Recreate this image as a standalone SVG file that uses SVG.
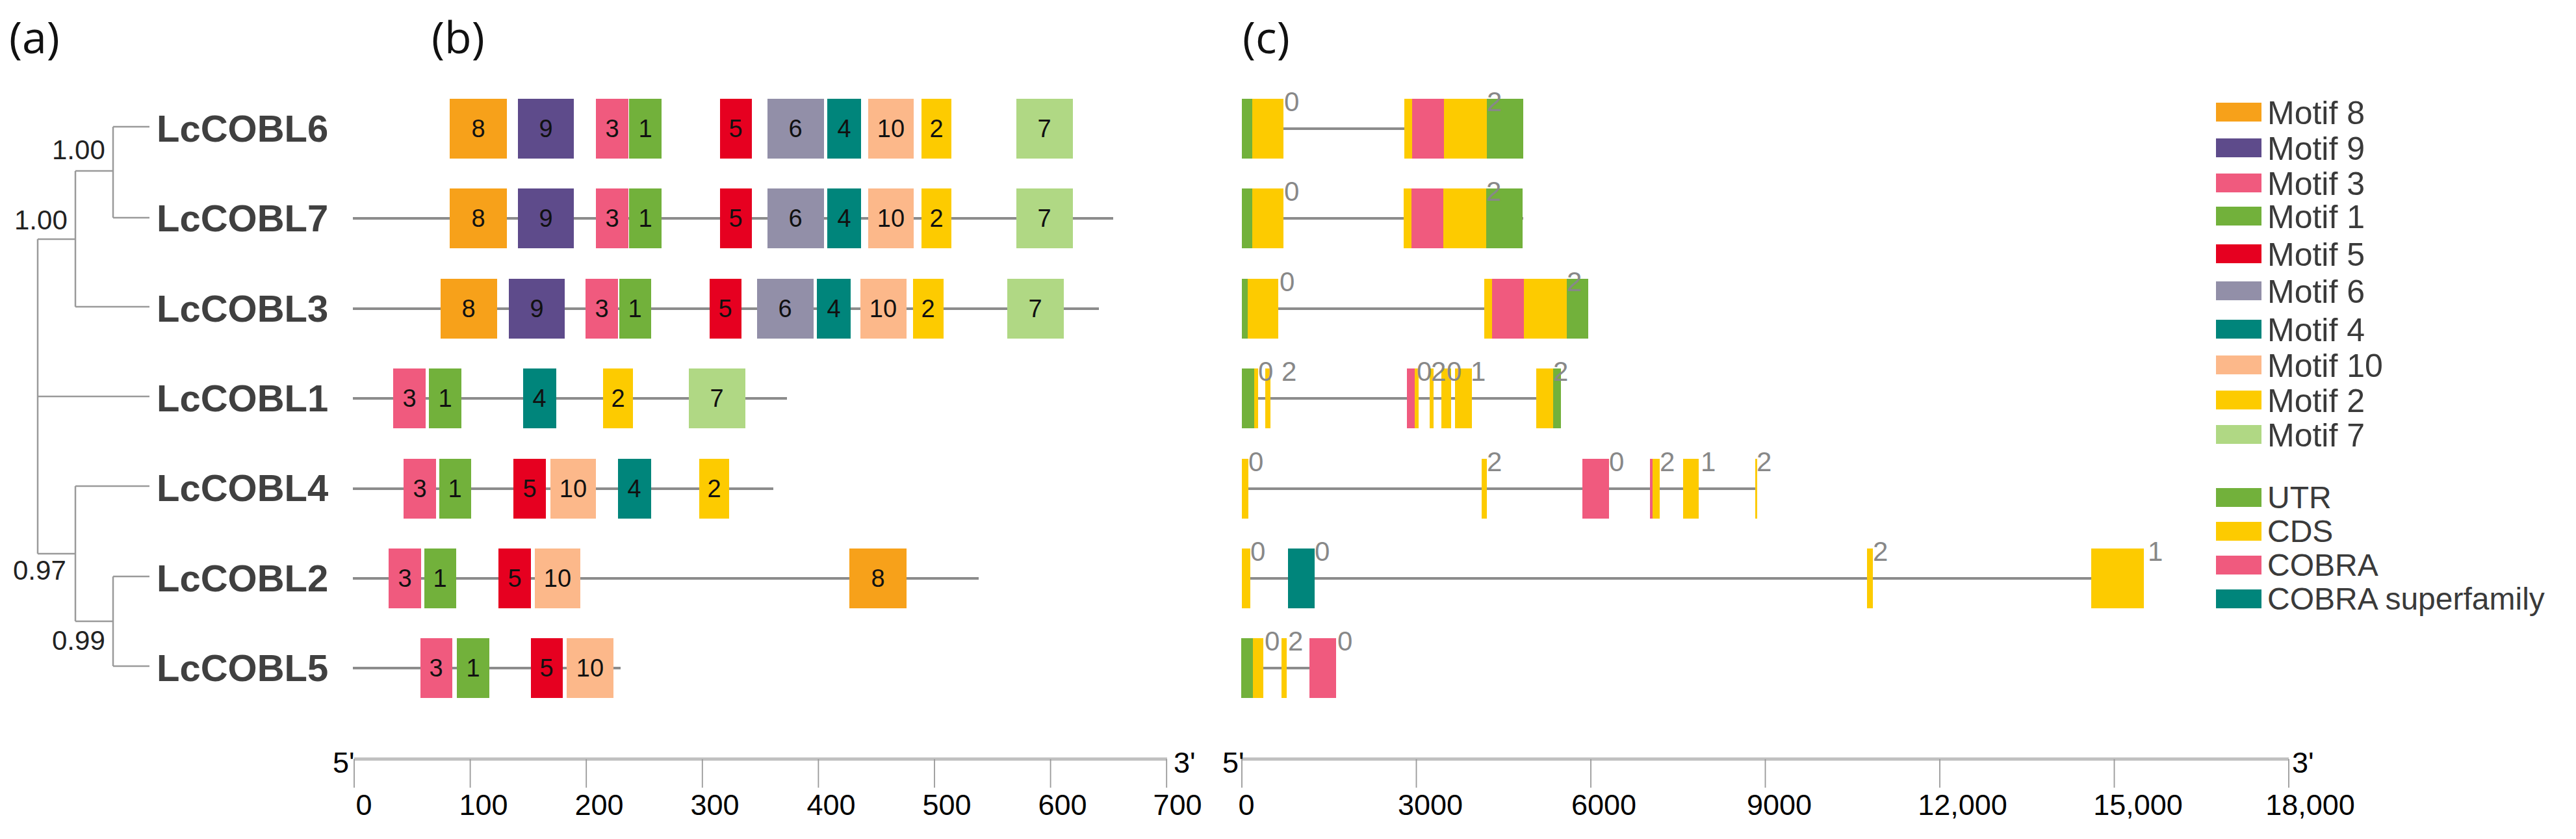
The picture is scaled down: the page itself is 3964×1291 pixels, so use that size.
<svg xmlns="http://www.w3.org/2000/svg" width="3964" height="1291" viewBox="0 0 3964 1291">
<style>
.bg{fill:#ffffff}
.tree{stroke:#9a9a9a;stroke-width:2.5;fill:none}
.gl{stroke:#8c8c8c;stroke-width:4}
.ax{stroke:#c0c0c0;stroke-width:5}
.tk{stroke:#9a9a9a;stroke-width:1.8}
.m8{fill:#F7A11A}.m9{fill:#5E4B8B}.m3{fill:#F05A7E}.m1{fill:#72B13B}.m5{fill:#E60020}
.m6{fill:#928FA8}.m4{fill:#00857B}.m10{fill:#FCB88A}.m2{fill:#FDCB00}.m7{fill:#B0D884}
.num{font-family:"Liberation Sans",Arial,sans-serif;font-size:38px;fill:#111;text-anchor:middle}
.ph{font-family:"Liberation Sans",Arial,sans-serif;font-size:42px;fill:#888}
.gene{font-family:"Liberation Sans",Arial,sans-serif;font-size:58px;font-weight:bold;fill:#404040}
.bs{font-family:"Liberation Sans",Arial,sans-serif;font-size:42px;fill:#222}
.pl{font-family:"Open Sans","Liberation Sans",sans-serif;font-size:68px;fill:#111}
.tl{font-family:"Liberation Sans",Arial,sans-serif;font-size:45px;fill:#000;text-anchor:middle}
.end{font-family:"Liberation Sans",Arial,sans-serif;font-size:45px;fill:#000}
.lg{font-family:"Liberation Sans",Arial,sans-serif;font-size:50px;fill:#3a3a3a}
.lg2{font-family:"Liberation Sans",Arial,sans-serif;font-size:48px;fill:#3a3a3a}
</style>
<rect class="bg" x="0" y="0" width="3964" height="1291"/>

<g id="panel-labels">
<text class="pl" x="14" y="82">(a)</text>
<text class="pl" x="664" y="82">(b)</text>
<text class="pl" x="1912" y="82">(c)</text>
</g>

<g id="tree">
<path class="tree" d="M174,195 H230 M174,335 H230 M174,195 V335 M116,263 H174 M116,263 V472 M116,472 H230 M58,368 H116 M58,368 V852 M58,610 H230 M58,852 H116 M116,748 V956 M116,748 H230 M116,956 H174 M174,887 V1025 M174,887 H230 M174,1025 H230"/>
<text class="bs" x="80" y="245">1.00</text>
<text class="bs" x="22" y="353">1.00</text>
<text class="bs" x="20" y="892">0.97</text>
<text class="bs" x="80" y="1000">0.99</text>
</g>

<g id="gene-labels">
<text class="gene" x="241" y="218">LcCOBL6</text>
<text class="gene" x="241" y="356">LcCOBL7</text>
<text class="gene" x="241" y="495">LcCOBL3</text>
<text class="gene" x="241" y="633">LcCOBL1</text>
<text class="gene" x="241" y="771">LcCOBL4</text>
<text class="gene" x="241" y="910">LcCOBL2</text>
<text class="gene" x="241" y="1048">LcCOBL5</text>
</g>

<g id="motifs">
<g id="motif-LcCOBL6">
<rect class="m8" x="692" y="152" width="88" height="92"/><text class="num" x="736" y="211">8</text>
<rect class="m9" x="797" y="152" width="86" height="92"/><text class="num" x="840" y="211">9</text>
<rect class="m3" x="917" y="152" width="50" height="92"/><text class="num" x="942" y="211">3</text>
<rect class="m1" x="968" y="152" width="50" height="92"/><text class="num" x="993" y="211">1</text>
<rect class="m5" x="1108" y="152" width="49" height="92"/><text class="num" x="1132" y="211">5</text>
<rect class="m6" x="1181" y="152" width="87" height="92"/><text class="num" x="1224" y="211">6</text>
<rect class="m4" x="1273" y="152" width="52" height="92"/><text class="num" x="1299" y="211">4</text>
<rect class="m10" x="1336" y="152" width="70" height="92"/><text class="num" x="1371" y="211">10</text>
<rect class="m2" x="1418" y="152" width="46" height="92"/><text class="num" x="1441" y="211">2</text>
<rect class="m7" x="1564" y="152" width="87" height="92"/><text class="num" x="1607" y="211">7</text>
</g>
<g id="motif-LcCOBL7">
<line class="gl" x1="543" y1="336" x2="1713" y2="336"/>
<rect class="m8" x="692" y="290" width="88" height="92"/><text class="num" x="736" y="349">8</text>
<rect class="m9" x="797" y="290" width="86" height="92"/><text class="num" x="840" y="349">9</text>
<rect class="m3" x="917" y="290" width="50" height="92"/><text class="num" x="942" y="349">3</text>
<rect class="m1" x="968" y="290" width="50" height="92"/><text class="num" x="993" y="349">1</text>
<rect class="m5" x="1108" y="290" width="49" height="92"/><text class="num" x="1132" y="349">5</text>
<rect class="m6" x="1181" y="290" width="87" height="92"/><text class="num" x="1224" y="349">6</text>
<rect class="m4" x="1273" y="290" width="52" height="92"/><text class="num" x="1299" y="349">4</text>
<rect class="m10" x="1336" y="290" width="70" height="92"/><text class="num" x="1371" y="349">10</text>
<rect class="m2" x="1418" y="290" width="46" height="92"/><text class="num" x="1441" y="349">2</text>
<rect class="m7" x="1564" y="290" width="87" height="92"/><text class="num" x="1607" y="349">7</text>
</g>
<g id="motif-LcCOBL3">
<line class="gl" x1="543" y1="475" x2="1691" y2="475"/>
<rect class="m8" x="678" y="429" width="87" height="92"/><text class="num" x="721" y="488">8</text>
<rect class="m9" x="783" y="429" width="86" height="92"/><text class="num" x="826" y="488">9</text>
<rect class="m3" x="901" y="429" width="50" height="92"/><text class="num" x="926" y="488">3</text>
<rect class="m1" x="953" y="429" width="49" height="92"/><text class="num" x="977" y="488">1</text>
<rect class="m5" x="1092" y="429" width="49" height="92"/><text class="num" x="1116" y="488">5</text>
<rect class="m6" x="1165" y="429" width="87" height="92"/><text class="num" x="1208" y="488">6</text>
<rect class="m4" x="1257" y="429" width="52" height="92"/><text class="num" x="1283" y="488">4</text>
<rect class="m10" x="1324" y="429" width="71" height="92"/><text class="num" x="1359" y="488">10</text>
<rect class="m2" x="1405" y="429" width="47" height="92"/><text class="num" x="1428" y="488">2</text>
<rect class="m7" x="1550" y="429" width="87" height="92"/><text class="num" x="1593" y="488">7</text>
</g>
<g id="motif-LcCOBL1">
<line class="gl" x1="543" y1="613" x2="1211" y2="613"/>
<rect class="m3" x="605" y="567" width="50" height="92"/><text class="num" x="630" y="626">3</text>
<rect class="m1" x="660" y="567" width="50" height="92"/><text class="num" x="685" y="626">1</text>
<rect class="m4" x="805" y="567" width="51" height="92"/><text class="num" x="830" y="626">4</text>
<rect class="m2" x="928" y="567" width="46" height="92"/><text class="num" x="951" y="626">2</text>
<rect class="m7" x="1060" y="567" width="87" height="92"/><text class="num" x="1103" y="626">7</text>
</g>
<g id="motif-LcCOBL4">
<line class="gl" x1="543" y1="752" x2="1190" y2="752"/>
<rect class="m3" x="621" y="706" width="50" height="92"/><text class="num" x="646" y="765">3</text>
<rect class="m1" x="676" y="706" width="49" height="92"/><text class="num" x="700" y="765">1</text>
<rect class="m5" x="790" y="706" width="50" height="92"/><text class="num" x="815" y="765">5</text>
<rect class="m10" x="847" y="706" width="70" height="92"/><text class="num" x="882" y="765">10</text>
<rect class="m4" x="951" y="706" width="51" height="92"/><text class="num" x="976" y="765">4</text>
<rect class="m2" x="1076" y="706" width="46" height="92"/><text class="num" x="1099" y="765">2</text>
</g>
<g id="motif-LcCOBL2">
<line class="gl" x1="543" y1="890" x2="1506" y2="890"/>
<rect class="m3" x="598" y="844" width="50" height="92"/><text class="num" x="623" y="903">3</text>
<rect class="m1" x="653" y="844" width="49" height="92"/><text class="num" x="677" y="903">1</text>
<rect class="m5" x="767" y="844" width="50" height="92"/><text class="num" x="792" y="903">5</text>
<rect class="m10" x="823" y="844" width="70" height="92"/><text class="num" x="858" y="903">10</text>
<rect class="m8" x="1307" y="844" width="88" height="92"/><text class="num" x="1351" y="903">8</text>
</g>
<g id="motif-LcCOBL5">
<line class="gl" x1="543" y1="1028" x2="955" y2="1028"/>
<rect class="m3" x="647" y="982" width="49" height="92"/><text class="num" x="671" y="1041">3</text>
<rect class="m1" x="703" y="982" width="50" height="92"/><text class="num" x="728" y="1041">1</text>
<rect class="m5" x="817" y="982" width="49" height="92"/><text class="num" x="841" y="1041">5</text>
<rect class="m10" x="872" y="982" width="72" height="92"/><text class="num" x="908" y="1041">10</text>
</g>
</g>

<g id="structures">
<g id="gs-LcCOBL6">
<line class="gl" x1="1911" y1="198" x2="2344" y2="198"/>
<rect class="m1" x="1911" y="152" width="16" height="92"/>
<rect class="m2" x="1927" y="152" width="48" height="92"/>
<rect class="m2" x="2161" y="152" width="12" height="92"/>
<rect class="m3" x="2173" y="152" width="49" height="92"/>
<rect class="m2" x="2222" y="152" width="66" height="92"/>
<rect class="m1" x="2288" y="152" width="56" height="92"/>
<text class="ph" x="1976" y="171">0</text><text class="ph" x="2288" y="171">2</text>
</g>
<g id="gs-LcCOBL7">
<line class="gl" x1="1911" y1="336" x2="2344" y2="336"/>
<rect class="m1" x="1911" y="290" width="16" height="92"/>
<rect class="m2" x="1927" y="290" width="48" height="92"/>
<rect class="m2" x="2160" y="290" width="12" height="92"/>
<rect class="m3" x="2172" y="290" width="49" height="92"/>
<rect class="m2" x="2221" y="290" width="66" height="92"/>
<rect class="m1" x="2287" y="290" width="56" height="92"/>
<text class="ph" x="1976" y="309">0</text><text class="ph" x="2287" y="309">2</text>
</g>
<g id="gs-LcCOBL3">
<line class="gl" x1="1911" y1="475" x2="2444" y2="475"/>
<rect class="m1" x="1911" y="429" width="9" height="92"/>
<rect class="m2" x="1920" y="429" width="47" height="92"/>
<rect class="m2" x="2284" y="429" width="12" height="92"/>
<rect class="m3" x="2296" y="429" width="49" height="92"/>
<rect class="m2" x="2345" y="429" width="66" height="92"/>
<rect class="m1" x="2411" y="429" width="33" height="92"/>
<text class="ph" x="1969" y="448">0</text><text class="ph" x="2411" y="448">2</text>
</g>
<g id="gs-LcCOBL1">
<line class="gl" x1="1911" y1="613" x2="2402" y2="613"/>
<rect class="m1" x="1911" y="567" width="19" height="92"/>
<rect class="m2" x="1930" y="567" width="6" height="92"/>
<rect class="m2" x="1947" y="567" width="8" height="92"/>
<rect class="m3" x="2165" y="567" width="12" height="92"/>
<rect class="m2" x="2177" y="567" width="6" height="92"/>
<rect class="m2" x="2200" y="567" width="6" height="92"/>
<rect class="m2" x="2218" y="567" width="15" height="92"/>
<rect class="m2" x="2239" y="567" width="26" height="92"/>
<rect class="m2" x="2364" y="567" width="26" height="92"/>
<rect class="m1" x="2390" y="567" width="12" height="92"/>
<text class="ph" x="1936" y="586">0</text><text class="ph" x="1972" y="586">2</text>
<text class="ph" x="2180" y="586">0</text><text class="ph" x="2202" y="586">2</text>
<text class="ph" x="2226" y="586">0</text><text class="ph" x="2263" y="586">1</text>
<text class="ph" x="2390" y="586">2</text>
</g>
<g id="gs-LcCOBL4">
<line class="gl" x1="1911" y1="752" x2="2703" y2="752"/>
<rect class="m2" x="1911" y="706" width="10" height="92"/>
<rect class="m2" x="2280" y="706" width="8" height="92"/>
<rect class="m3" x="2435" y="706" width="41" height="92"/>
<rect class="m3" x="2539" y="706" width="4" height="92"/>
<rect class="m2" x="2543" y="706" width="11" height="92"/>
<rect class="m2" x="2590" y="706" width="24" height="92"/>
<rect class="m2" x="2701" y="706" width="3" height="92"/>
<text class="ph" x="1921" y="725">0</text><text class="ph" x="2288" y="725">2</text>
<text class="ph" x="2476" y="725">0</text><text class="ph" x="2554" y="725">2</text>
<text class="ph" x="2617" y="725">1</text><text class="ph" x="2703" y="725">2</text>
</g>
<g id="gs-LcCOBL2">
<line class="gl" x1="1911" y1="890" x2="3299" y2="890"/>
<rect class="m2" x="1911" y="844" width="13" height="92"/>
<rect class="m4" x="1982" y="844" width="41" height="92"/>
<rect class="m2" x="2873" y="844" width="9" height="92"/>
<rect class="m2" x="3218" y="844" width="81" height="92"/>
<text class="ph" x="1924" y="863">0</text><text class="ph" x="2023" y="863">0</text>
<text class="ph" x="2882" y="863">2</text><text class="ph" x="3305" y="863">1</text>
</g>
<g id="gs-LcCOBL5">
<line class="gl" x1="1911" y1="1028" x2="2056" y2="1028"/>
<rect class="m1" x="1910" y="982" width="18" height="92"/>
<rect class="m2" x="1928" y="982" width="16" height="92"/>
<rect class="m2" x="1972" y="982" width="8" height="92"/>
<rect class="m3" x="2015" y="982" width="41" height="92"/>
<text class="ph" x="1946" y="1001">0</text><text class="ph" x="1982" y="1001">2</text>
<text class="ph" x="2058" y="1001">0</text>
</g>
</g>

<g id="axis-b">
<line class="ax" x1="545" y1="1168" x2="1796" y2="1168"/>
<path class="tk" d="M545,1168V1212 M723.6,1168V1212 M902.2,1168V1212 M1080.8,1168V1212 M1259.4,1168V1212 M1438,1168V1212 M1616.6,1168V1212 M1795.2,1168V1212"/>
<text class="end" x="512" y="1189">5'</text>
<text class="end" x="1806" y="1189">3'</text>
<text class="tl" x="560" y="1254">0</text>
<text class="tl" x="744" y="1254">100</text>
<text class="tl" x="922" y="1254">200</text>
<text class="tl" x="1100" y="1254">300</text>
<text class="tl" x="1279" y="1254">400</text>
<text class="tl" x="1457" y="1254">500</text>
<text class="tl" x="1635" y="1254">600</text>
<text class="tl" x="1812" y="1254">700</text>
</g>

<g id="axis-c">
<line class="ax" x1="1911" y1="1168" x2="3522" y2="1168"/>
<path class="tk" d="M1911,1168V1212 M2179.5,1168V1212 M2448,1168V1212 M2716.5,1168V1212 M2985,1168V1212 M3253.5,1168V1212 M3522,1168V1212"/>
<text class="end" x="1881" y="1189">5'</text>
<text class="end" x="3527" y="1189">3'</text>
<text class="tl" x="1918" y="1254">0</text>
<text class="tl" x="2201" y="1254">3000</text>
<text class="tl" x="2468" y="1254">6000</text>
<text class="tl" x="2738" y="1254">9000</text>
<text class="tl" x="3020" y="1254">12,000</text>
<text class="tl" x="3290" y="1254">15,000</text>
<text class="tl" x="3555" y="1254">18,000</text>
</g>

<g id="legend">
<rect class="m8" x="3410" y="158" width="70" height="29"/><text class="lg" x="3489" y="191">Motif 8</text>
<rect class="m9" x="3410" y="213" width="70" height="29"/><text class="lg" x="3489" y="246">Motif 9</text>
<rect class="m3" x="3410" y="267" width="70" height="29"/><text class="lg" x="3489" y="300">Motif 3</text>
<rect class="m1" x="3410" y="318" width="70" height="29"/><text class="lg" x="3489" y="351">Motif 1</text>
<rect class="m5" x="3410" y="376" width="70" height="29"/><text class="lg" x="3489" y="409">Motif 5</text>
<rect class="m6" x="3410" y="433" width="70" height="29"/><text class="lg" x="3489" y="466">Motif 6</text>
<rect class="m4" x="3410" y="492" width="70" height="29"/><text class="lg" x="3489" y="525">Motif 4</text>
<rect class="m10" x="3410" y="547" width="70" height="29"/><text class="lg" x="3489" y="580">Motif 10</text>
<rect class="m2" x="3410" y="601" width="70" height="29"/><text class="lg" x="3489" y="634">Motif 2</text>
<rect class="m7" x="3410" y="654" width="70" height="29"/><text class="lg" x="3489" y="687">Motif 7</text>
<rect class="m1" x="3410" y="751" width="70" height="29"/><text class="lg2" x="3489" y="782">UTR</text>
<rect class="m2" x="3410" y="803" width="70" height="29"/><text class="lg2" x="3489" y="834">CDS</text>
<rect class="m3" x="3410" y="855" width="70" height="29"/><text class="lg2" x="3489" y="886">COBRA</text>
<rect class="m4" x="3410" y="907" width="70" height="29"/><text class="lg2" x="3489" y="938">COBRA superfamily</text>
</g>
</svg>
